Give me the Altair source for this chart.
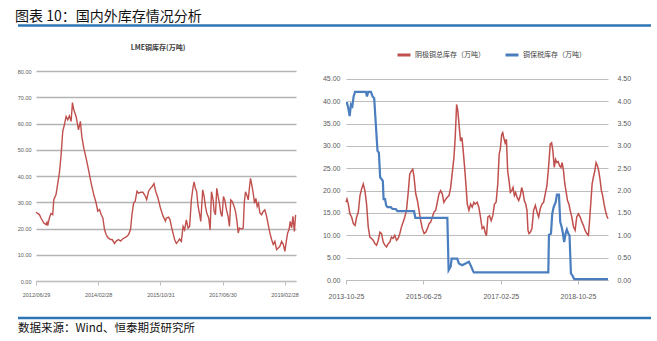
import altair as alt
import pandas as pd

# ---------------- data ----------------
main_title = "图表 10：国内外库存情况分析"
source_text = "数据来源：Wind、恒泰期货研究所"
left_title = "LME铜库存(万吨)"
name_red = "阴极铜总库存（万吨）"
name_blue = "铜保税库存（万吨）"

lme_dates = [
    "2012-06-29", "2012-08-01", "2012-08-17", "2012-09-12", "2012-10-05", "2012-10-15", "2012-10-22",
    "2012-11-07", "2012-11-23", "2012-12-10", "2012-12-20", "2013-01-11", "2013-01-21", "2013-02-13",
    "2013-03-01", "2013-03-18", "2013-04-03", "2013-04-20", "2013-05-06", "2013-05-22", "2013-06-08",
    "2013-06-21", "2013-07-04", "2013-07-27", "2013-08-19", "2013-09-07", "2013-09-21", "2013-10-10",
    "2013-11-02", "2013-11-25", "2013-12-21", "2014-01-16", "2014-02-08", "2014-02-24", "2014-03-13",
    "2014-03-29", "2014-04-15", "2014-05-01", "2014-05-17", "2014-06-03", "2014-06-29", "2014-07-15",
    "2014-08-07", "2014-08-24", "2014-09-15", "2014-10-05", "2014-10-28", "2014-11-30", "2014-12-23",
    "2015-01-11", "2015-01-25", "2015-02-10", "2015-02-26", "2015-03-15", "2015-03-31", "2015-04-20",
    "2015-05-13", "2015-06-05", "2015-06-18", "2015-07-07", "2015-07-27", "2015-08-13", "2015-08-29",
    "2015-09-14", "2015-10-07", "2015-10-31", "2015-11-26", "2015-12-19", "2015-12-28", "2016-01-19",
    "2016-02-02", "2016-02-15", "2016-03-02", "2016-03-18", "2016-04-04", "2016-04-20", "2016-05-06",
    "2016-05-23", "2016-06-09", "2016-06-24", "2016-07-11", "2016-07-28", "2016-08-12", "2016-08-29",
    "2016-09-15", "2016-09-25", "2016-10-07", "2016-10-20", "2016-11-03", "2016-11-19", "2016-11-29",
    "2016-12-05", "2016-12-18", "2017-01-01", "2017-01-14", "2017-01-27", "2017-02-15", "2017-03-01",
    "2017-03-14", "2017-03-30", "2017-04-09", "2017-04-22", "2017-05-05", "2017-05-18", "2017-05-31",
    "2017-06-13", "2017-06-26", "2017-07-09", "2017-07-22", "2017-08-08", "2017-08-24", "2017-09-06",
    "2017-09-19", "2017-10-03", "2017-10-22", "2017-11-04", "2017-11-17", "2017-12-01", "2017-12-13",
    "2018-01-02", "2018-01-19", "2018-01-29", "2018-02-10", "2018-02-23", "2018-03-09", "2018-03-22",
    "2018-03-31", "2018-04-13", "2018-04-27", "2018-05-10", "2018-05-23", "2018-06-05", "2018-06-18",
    "2018-07-01", "2018-07-18", "2018-08-03", "2018-08-19", "2018-09-05", "2018-09-21", "2018-10-07",
    "2018-10-24", "2018-11-09", "2018-11-25", "2018-12-12", "2018-12-28", "2019-01-13", "2019-01-30",
    "2019-02-16", "2019-03-03", "2019-03-17", "2019-03-30", "2019-04-12", "2019-04-25", "2019-05-08",
    "2019-05-21", "2019-06-04", "2019-06-16",
]
lme_values = [
    26.2, 25.3, 24.0, 22.2, 21.5, 22.4, 21.1,
    24.0, 25.7, 25.3, 31.0, 32.9, 35.4, 41.1,
    47.5, 57.0, 59.5, 62.7, 61.4, 62.9, 60.8,
    68.0, 65.2, 62.7, 57.6, 60.8, 55.0, 50.6,
    46.8, 42.4, 37.3, 32.9, 29.7, 26.6, 27.2,
    25.3, 24.0, 19.6, 17.7, 16.5, 15.8, 15.8,
    14.3, 15.2, 15.8, 15.2, 16.1, 16.8, 17.7,
    19.6, 25.3, 29.7, 30.4, 34.2, 33.5, 33.8,
    33.8, 32.3, 31.0, 34.2, 35.4, 36.1, 37.1,
    34.2, 31.6, 27.8, 24.7, 22.8, 24.0, 24.3,
    23.3, 20.8, 18.3, 15.8, 14.3, 15.1, 16.0,
    15.1, 20.8, 19.5, 23.3, 20.2, 20.8, 30.9,
    35.9, 37.8, 35.3, 34.0, 28.4, 25.2, 22.7,
    26.5, 34.7, 32.2, 28.4, 25.9, 24.0, 19.5,
    34.0, 30.9, 26.5, 25.2, 35.3, 32.2, 29.6,
    25.9, 24.6, 32.2, 30.9, 27.1, 24.6, 20.8,
    30.9, 30.3, 28.4, 26.5, 23.3, 18.3, 20.2,
    19.8, 20.2, 29.6, 34.0, 32.8, 30.9, 35.9,
    39.1, 36.6, 33.4, 29.6, 31.5, 28.4, 29.6,
    25.9, 25.2, 26.5, 27.1, 24.6, 21.4, 18.3,
    15.8, 13.9, 15.1, 12.0, 12.6, 13.2, 15.1,
    13.9, 11.3, 15.1, 18.3, 19.5, 22.7, 20.2,
    24.6, 18.9, 25.2,
]

cu_dates = [
    "2013-10-25", "2013-11-02", "2013-11-12", "2013-11-25", "2013-12-08", "2013-12-22", "2014-01-04",
    "2014-01-17", "2014-01-30", "2014-02-12", "2014-02-25", "2014-03-10", "2014-03-23", "2014-04-05",
    "2014-04-18", "2014-05-01", "2014-05-14", "2014-05-27", "2014-06-10", "2014-06-23", "2014-07-06",
    "2014-07-19", "2014-08-01", "2014-08-14", "2014-08-27", "2014-09-09", "2014-09-22", "2014-10-05",
    "2014-10-18", "2014-10-31", "2014-11-13", "2014-11-27", "2014-12-10", "2014-12-23", "2015-01-05",
    "2015-01-18", "2015-01-31", "2015-02-13", "2015-02-26", "2015-03-11", "2015-03-24", "2015-04-04",
    "2015-04-14", "2015-04-27", "2015-05-10", "2015-05-23", "2015-06-05", "2015-06-18", "2015-07-02",
    "2015-07-15", "2015-07-28", "2015-08-10", "2015-08-23", "2015-09-05", "2015-09-18", "2015-10-01",
    "2015-10-14", "2015-10-27", "2015-11-09", "2015-11-22", "2015-12-05", "2015-12-19", "2016-01-01",
    "2016-01-14", "2016-01-27", "2016-02-09", "2016-02-22", "2016-03-03", "2016-03-14", "2016-03-24",
    "2016-04-04", "2016-04-14", "2016-04-25", "2016-05-05", "2016-05-16", "2016-05-26", "2016-06-06",
    "2016-06-19", "2016-07-02", "2016-07-15", "2016-07-28", "2016-08-07", "2016-08-23", "2016-09-05",
    "2016-09-18", "2016-10-01", "2016-10-14", "2016-10-27", "2016-11-04", "2016-11-15", "2016-11-28",
    "2016-12-11", "2016-12-24", "2017-01-06", "2017-01-19", "2017-02-01", "2017-02-12", "2017-02-22",
    "2017-03-04", "2017-03-12", "2017-03-20", "2017-03-31", "2017-04-10", "2017-04-20", "2017-05-01",
    "2017-05-11", "2017-05-22", "2017-06-01", "2017-06-12", "2017-06-22", "2017-07-03", "2017-07-16",
    "2017-07-29", "2017-08-08", "2017-08-19", "2017-08-29", "2017-09-09", "2017-09-19", "2017-09-27",
    "2017-10-05", "2017-10-15", "2017-10-28", "2017-11-10", "2017-11-24", "2017-12-07", "2017-12-20",
    "2018-01-02", "2018-01-15", "2018-01-28", "2018-02-10", "2018-02-23", "2018-03-08", "2018-03-21",
    "2018-04-01", "2018-04-11", "2018-04-22", "2018-05-02", "2018-05-13", "2018-05-23", "2018-06-02",
    "2018-06-13", "2018-06-23", "2018-07-04", "2018-07-14", "2018-07-25", "2018-08-04", "2018-08-15",
    "2018-08-25", "2018-09-07", "2018-09-20", "2018-10-03", "2018-10-16", "2018-10-29", "2018-11-12",
    "2018-11-25", "2018-12-08", "2018-12-21", "2019-01-03", "2019-01-16", "2019-01-24", "2019-02-03",
    "2019-02-14", "2019-02-24", "2019-03-07", "2019-03-17", "2019-03-28", "2019-04-07", "2019-04-17",
    "2019-04-28", "2019-05-08", "2019-05-19", "2019-05-29", "2019-06-09", "2019-06-19",
]
cu_total = [
    17.4, 18.1, 17.0, 14.8, 14.1, 12.6, 12.2,
    14.1, 15.2, 18.9, 20.4, 21.5, 20.0, 17.0,
    11.9, 9.6, 9.3, 8.9, 8.1, 7.8, 8.9,
    10.7, 10.4, 8.5, 7.8, 7.4, 8.1, 8.5,
    9.6, 9.3, 10.0, 8.9, 9.3, 10.4, 11.9,
    13.0, 14.1, 15.6, 19.3, 23.7, 24.4, 24.8,
    23.0, 19.3, 17.8, 15.6, 13.3, 11.5, 10.4,
    10.7, 11.5, 12.6, 13.0, 14.1, 15.2, 15.6,
    17.4, 19.3, 20.0, 19.3, 17.4, 18.1, 18.5,
    18.9, 20.7, 24.1, 27.4, 31.9, 39.3, 37.8,
    34.1, 31.1, 31.9, 28.9, 25.2, 21.5, 17.0,
    15.6, 17.0, 16.3, 17.4, 17.0, 17.4, 16.3,
    14.1, 11.5, 11.9, 10.4, 9.9, 14.1, 14.4,
    13.3, 14.4, 17.0, 17.4, 21.5, 28.1, 29.6,
    32.6, 33.0, 31.9, 30.7, 31.5, 24.4, 22.2,
    19.6, 20.0, 20.7, 18.9, 19.6, 18.5, 17.8,
    18.9, 20.7, 19.6, 17.8, 17.0, 15.6, 11.1,
    10.4, 10.7, 11.5, 15.6, 16.7, 15.2, 14.1,
    16.0, 17.0, 17.4, 19.3, 21.1, 25.2, 30.4,
    30.7, 28.9, 25.2, 27.0, 26.3, 26.5, 25.6,
    25.2, 26.3, 24.4, 21.5, 19.6, 17.8, 17.0,
    15.6, 14.1, 11.9, 11.1, 14.1, 14.8, 14.1,
    13.0, 12.2, 11.1, 10.4, 10.0, 13.0, 17.0,
    21.5, 23.0, 24.4, 26.3, 25.6, 24.4, 22.6,
    20.0, 18.9, 17.0, 15.6, 14.4, 13.7,
]

bonded_dates = [
    "2013-10-25", "2013-11-02", "2013-11-12", "2013-11-23", "2013-12-03", "2013-12-14", "2013-12-24",
    "2014-01-04", "2014-03-31", "2014-04-08", "2014-04-18", "2014-05-09", "2014-05-22", "2014-06-04",
    "2014-06-17", "2014-06-30", "2014-07-11", "2014-07-21", "2014-08-01", "2014-08-11", "2014-08-17",
    "2014-08-29", "2014-09-06", "2014-09-17", "2014-10-13", "2014-10-26", "2014-11-21", "2014-12-04",
    "2015-04-14", "2015-04-24", "2016-01-01", "2016-01-06", "2016-01-11", "2016-01-27", "2016-02-04",
    "2016-03-19", "2016-04-01", "2016-04-27", "2016-05-23", "2016-06-19", "2016-07-07", "2016-07-23",
    "2016-07-28", "2018-03-06", "2018-03-11", "2018-03-27", "2018-04-06", "2018-04-17", "2018-05-03",
    "2018-05-13", "2018-05-29", "2018-06-08", "2018-06-19", "2018-06-29", "2018-07-09", "2018-07-20",
    "2018-07-30", "2018-08-10", "2018-08-20", "2018-08-31", "2018-09-10", "2018-09-26", "2019-06-19",
]
bonded_values = [
    3.96, 3.96, 3.85, 3.67, 3.93, 3.89, 4.11,
    4.21, 4.21, 4.11, 4.21, 4.21, 4.11, 4.07,
    3.48, 2.89, 2.85, 2.30, 2.26, 2.22, 1.81,
    1.81, 1.67, 1.63, 1.63, 1.59, 1.59, 1.54,
    1.54, 1.39, 1.39, 0.81, 0.22, 0.30, 0.48,
    0.48, 0.37, 0.33, 0.37, 0.41, 0.30, 0.19,
    0.17, 0.17, 1.01, 1.04, 1.48, 1.63, 1.74,
    1.91, 1.91, 1.30, 1.19, 1.04, 0.85, 1.04,
    1.13, 1.04, 1.00, 0.15, 0.11, 0.02, 0.02,
]

left_xticks = ["2012-06-29", "2014-02-28", "2015-10-31", "2017-06-30", "2019-02-28"]
right_xticks = ["2013-10-25", "2015-06-25", "2017-02-25", "2018-10-25"]
left_yticks = [0, 10, 20, 30, 40, 50, 60, 70, 80]
right_yticks_left = [0, 5, 10, 15, 20, 25, 30, 35, 40, 45]
right_yticks_right = [0, 0.5, 1.0, 1.5, 2.0, 2.5, 3.0, 3.5, 4.0, 4.5]

# ---------------- style ----------------
RED = "#c0504d"
BLUE = "#4a7ebf"
RULE_BLUE = "#2e75b6"
GRID = "#bdbdbd"
NARROW = "Liberation Sans Narrow, Liberation Sans, Arial"
CJK = "Noto Sans CJK SC"
LABEL = "#595959"


def dt(s):
    y, m, d = (int(p) for p in s.split("-"))
    return alt.DateTime(year=y, month=m, date=d)


one = pd.DataFrame({"k": [0]})

# ---------------- left panel ----------------
left_df = pd.DataFrame({"date": pd.to_datetime(lme_dates), "v": lme_values})

left_line = alt.Chart(left_df).mark_line(color=RED, strokeWidth=1.4).encode(
    x=alt.X(
        "date:T", title=None,
        scale=alt.Scale(domain=[dt("2012-06-29"), dt("2019-06-20")]),
        axis=alt.Axis(
            values=[dt(s) for s in left_xticks], format="%Y/%m/%d",
            labelFont=NARROW, labelFontSize=5.5, labelColor=LABEL,
            labelFlush=False, labelOverlap=False, labelPadding=7,
            ticks=True, tickSize=4, tickColor=GRID, domain=True, domainColor=GRID,
            domainWidth=1.2, grid=False,
        ),
    ),
    y=alt.Y(
        "v:Q", title=None,
        scale=alt.Scale(domain=[0, 80], nice=False),
        axis=alt.Axis(
            values=left_yticks, format=".2f",
            labelFont=NARROW, labelFontSize=5.5, labelColor=LABEL, labelPadding=5,
            ticks=False, domain=False, grid=True, gridColor="#b3b3b3", gridWidth=1.4,
        ),
    ),
)

left_title_mark = alt.Chart(one).mark_text(
    align="center", baseline="middle", font=CJK, fontSize=7, fontWeight="bold", color="#404040"
).encode(x=alt.value(122), y=alt.value(-23), text=alt.value(left_title))

corner = alt.Chart(one).mark_rule(color="white", strokeWidth=1).encode(
    x=alt.value(-35), y=alt.value(-70), y2=alt.value(-60)
)
top_rule = alt.Chart(one).mark_rule(color=RULE_BLUE, strokeWidth=2.5).encode(
    x=alt.value(-18), x2=alt.value(615), y=alt.value(-45.5)
)
bottom_rule = alt.Chart(one).mark_rule(color=RULE_BLUE, strokeWidth=2.5).encode(
    x=alt.value(-18), x2=alt.value(615), y=alt.value(247)
)
title_mark = alt.Chart(one).mark_text(
    align="left", baseline="alphabetic", font=CJK, fontSize=14, color="#111111"
).encode(x=alt.value(-21), y=alt.value(-50), text=alt.value(main_title))
source_mark = alt.Chart(one).mark_text(
    align="left", baseline="alphabetic", font=CJK, fontSize=11.5, color="#111111"
).encode(x=alt.value(-18), y=alt.value(261), text=alt.value(source_text))

left = alt.layer(
    left_line, left_title_mark, corner, top_rule, bottom_rule, title_mark, source_mark
).properties(width=260, height=210)

# ---------------- right panel ----------------
red_df = pd.DataFrame({"date": pd.to_datetime(cu_dates), "v": cu_total, "s": name_red})
blue_df = pd.DataFrame({"date": pd.to_datetime(bonded_dates), "v": bonded_values, "s": name_blue})

xr = alt.X(
    "date:T", title=None,
    scale=alt.Scale(domain=[dt("2013-10-25"), dt("2019-06-19")]),
    axis=alt.Axis(
        values=[dt(s) for s in right_xticks], format="%Y-%m-%d",
        labelFont=NARROW, labelFontSize=7, labelColor=LABEL,
        labelFlush=False, labelOverlap=False, labelPadding=8,
        ticks=True, tickSize=4, tickColor=GRID, domain=True, domainColor=GRID,
        domainWidth=1.2, grid=False,
    ),
)
color = alt.Color(
    "s:N",
    scale=alt.Scale(domain=[name_red, name_blue], range=[RED, BLUE]),
    legend=alt.Legend(
        title=None, orient="none", legendX=50, legendY=-24, direction="horizontal",
        symbolType="stroke", symbolSize=169, symbolStrokeWidth=3,
        labelFont=CJK, labelFontSize=7, labelColor="#404040",
        labelOffset=3, columnPadding=14,
    ),
)

red_line = alt.Chart(red_df).mark_line(strokeWidth=1.5).encode(
    x=xr,
    y=alt.Y(
        "v:Q", title=None,
        scale=alt.Scale(domain=[0, 46.79], nice=False),
        axis=alt.Axis(
            values=right_yticks_left, format=".2f", orient="left",
            labelFont=NARROW, labelFontSize=7, labelColor=LABEL, labelPadding=6,
            ticks=False, domain=False, grid=True, gridColor=GRID, gridWidth=1.2,
        ),
    ),
    color=color,
)
blue_line = alt.Chart(blue_df).mark_line(strokeWidth=2.2).encode(
    x=xr,
    y=alt.Y(
        "v:Q", title=None,
        scale=alt.Scale(domain=[0, 4.679], nice=False),
        axis=alt.Axis(
            values=right_yticks_right, format=".2f", orient="right",
            labelFont=NARROW, labelFontSize=7, labelColor=LABEL, labelPadding=9,
            ticks=False, domain=False, grid=False,
        ),
    ),
    color=color,
)

right = alt.layer(red_line, blue_line).resolve_scale(y="independent").properties(
    width=262, height=209
)

chart = (
    alt.hconcat(left, right, spacing=50)
    .resolve_scale(color="independent")
    .resolve_legend(color="independent")
    .properties(bounds="flush", padding=0, background="white")
    .configure_view(strokeWidth=0)
)

chart.save("out.html", embed_options={"renderer": "svg", "actions": False})
